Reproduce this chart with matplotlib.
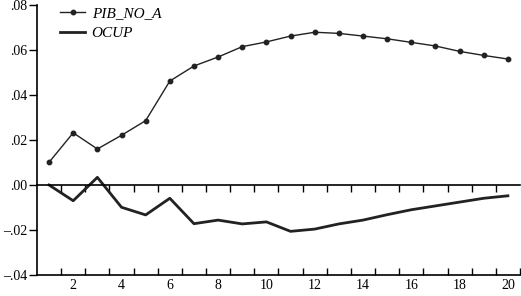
import matplotlib
matplotlib.use("Agg")
import matplotlib.pyplot as plt
from matplotlib.ticker import FuncFormatter, FixedLocator
import numpy as np

periods = list(range(1, 21))
pib_no_a = [0.0101, 0.0232, 0.0160, 0.0221, 0.0286, 0.0462, 0.0529, 0.0569, 0.0615, 0.0636,
            0.0662, 0.0679, 0.0674, 0.0662, 0.0650, 0.0634, 0.0618, 0.0594, 0.0576, 0.0560]
ocup = [0.0000, -0.0070, 0.0034, -0.0099, -0.0133, -0.0059, -0.0172, -0.0156, -0.0173, -0.0164,
        -0.0206, -0.0196, -0.0173, -0.0156, -0.0132, -0.0110, -0.0093, -0.0076, -0.0059, -0.0048]
x_labels = [2, 4, 6, 8, 10, 12, 14, 16, 18, 20]
y_ticks = [-0.04, -0.02, 0.00, 0.02, 0.04, 0.06, 0.08]

plt.rcParams['font.family'] = ['Liberation Serif', 'DejaVu Serif']

fig = plt.figure(figsize=(5.21, 2.96), dpi=100)
ax = fig.add_axes([0.071, 0.071, 0.927, 0.912])

ax.plot(periods, pib_no_a, color='#222222', lw=1.0, marker='o', ms=3.2, label='PIB_NO_A')
ax.plot(periods, ocup, color='#222222', lw=2.0, label='OCUP')

ax.set_xlim(0.5, 20.5)
ax.set_ylim(-0.04, 0.08)

def yfmt(v, pos):
    s = f"{abs(v):.2f}".lstrip('0')
    return ('\u2013' + s) if v < -1e-9 else s

ax.yaxis.set_major_locator(FixedLocator(y_ticks))
ax.yaxis.set_major_formatter(FuncFormatter(yfmt))
ax.tick_params(axis='y', direction='out', length=6, width=1, labelsize=10, pad=1)

# zero line as spine with downward tick marks
ax.spines['top'].set_visible(False)
ax.spines['right'].set_visible(False)
ax.spines['bottom'].set_position(('data', 0))
ax.spines['bottom'].set_linewidth(1.2)
ax.spines['left'].set_linewidth(1.2)
mids = [p + 0.5 for p in periods[:-1]]
ax.set_xticks(mids)
ax.set_xticklabels([])
ax.tick_params(axis='x', direction='out', length=5, width=1)

sec = ax.secondary_xaxis(0.0)
sec.spines['bottom'].set_linewidth(1.2)
sec.set_xticks(x_labels)
sec.set_xticklabels([str(v) for v in x_labels])
sec.xaxis.set_minor_locator(FixedLocator([p + 0.5 for p in periods]))
sec.tick_params(axis='x', which='major', length=0, labelsize=10, pad=3)
sec.tick_params(axis='x', which='minor', direction='in', length=5, width=1)

leg = ax.legend(loc='upper left', bbox_to_anchor=(0.02, 1.045), frameon=False,
                handlelength=1.6, handletextpad=0.45, labelspacing=0.4,
                prop={'style': 'italic', 'size': 11})

fig.savefig('out.png', dpi=100)
